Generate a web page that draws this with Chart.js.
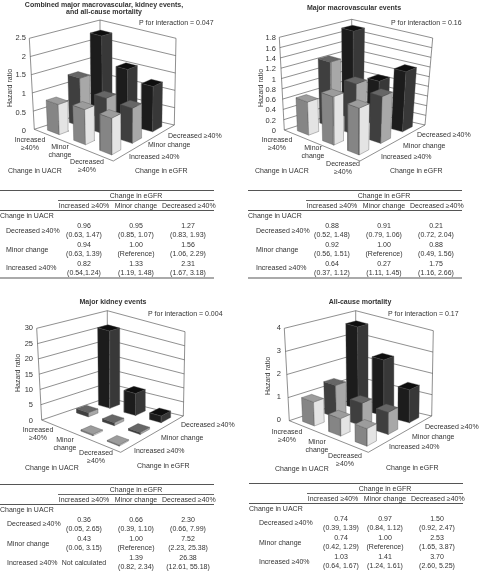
<!DOCTYPE html>
<html>
<head>
<meta charset="utf-8">
<title>Hazard ratio by change in eGFR and UACR</title>
<script src="https://cdn.jsdelivr.net/npm/chart.js@4/dist/chart.umd.min.js"></script>
<style>
    html, body { margin: 0; padding: 0; background: #fff; width: 479px; height: 571px; overflow: hidden; }
    canvas { position: absolute; }
    /* will-change keeps the table text in plain grey antialiasing, no colour fringes */
    table { position: absolute; border-collapse: collapse; table-layout: fixed; width: 214px; will-change: transform;
            font: 7px/9px "Liberation Sans", Arial, sans-serif; color: #333; }
    td { padding: 0; text-align: center; white-space: nowrap; vertical-align: middle; }
    td.rowlabel { text-align: left; }
    tr.eg td { border-top: 1px solid #555; }
    td.eg-title { border-bottom: 1px solid #666; }
    tr.head td { border-bottom: 1px solid #555; }
    tr.last td { border-bottom: 2px solid #aaa; }
</style>
</head>
<body>
<script>
// Labels
const egfrColumns = ['Increased ≥40%', 'Minor change', 'Decreased ≥40%'];
const uacrRows = ['Decreased ≥40%', 'Minor change', 'Increased ≥40%'];
const uacrAxisLabels = [['Increased', '≥40%'], ['Minor', 'change'], ['Decreased', '≥40%']];
const egfrAxisLabels = ['Decreased ≥40%', 'Minor change', 'Increased ≥40%'];

// Bar heights, rows = uacrRows, columns = egfrColumns
const combinedValues = [[0.96, 0.95, 1.27], [0.94, 1.00, 1.56], [0.82, 1.33, 2.31]];
const macroValues = [[0.88, 0.91, 1.21], [0.92, 1.00, 0.88], [0.64, 1.27, 1.75]];
const kidneyValues = [[0.36, 0.66, 2.30], [0.43, 1.00, 7.52], [null, 1.39, 26.38]];
const mortalityValues = [[0.74, 0.97, 1.50], [0.74, 1.00, 2.53], [1.03, 1.41, 3.70]];

// Table text, as printed
const combinedHr = [['0.96', '0.95', '1.27'], ['0.94', '1.00', '1.56'], ['0.82', '1.33', '2.31']];
const combinedCi = [['(0.63, 1.47)', '(0.85, 1.07)', '(0.83, 1.93)'], ['(0.63, 1.39)', '(Reference)', '(1.06, 2.29)'], ['(0.54,1.24)', '(1.19, 1.48)', '(1.67, 3.18)']];
const macroHr = [['0.88', '0.91', '0.21'], ['0.92', '1.00', '0.88'], ['0.64', '0.27', '1.75']];
const macroCi = [['(0.52, 1.48)', '(0.79, 1.06)', '(0.72, 2.04)'], ['(0.56, 1.51)', '(Reference)', '(0.49, 1.56)'], ['(0.37, 1.12)', '(1.11, 1.45)', '(1.16, 2.66)']];
const kidneyHr = [['0.36', '0.66', '2.30'], ['0.43', '1.00', '7.52'], ['Not calculated', '1.39', '26.38']];
const kidneyCi = [['(0.05, 2.65)', '(0.39, 1.10)', '(0.66, 7.99)'], ['(0.06, 3.15)', '(Reference)', '(2.23, 25.38)'], ['', '(0.82, 2.34)', '(12.61, 55.18)']];
const mortalityHr = [['0.74', '0.97', '1.50'], ['0.74', '1.00', '2.53'], ['1.03', '1.41', '3.70']];
const mortalityCi = [['(0.39, 1.39)', '(0.84, 1.12)', '(0.92, 2.47)'], ['(0.42, 1.29)', '(Reference)', '(1.65, 3.87)'], ['(0.64, 1.67)', '(1.24, 1.61)', '(2.60, 5.25)']];

// Tick labels
const combinedTicks = [0, 0.5, 1, 1.5, 2, 2.5];
const macroTicks = [0, 0.2, 0.4, 0.6, 0.8, 1, 1.2, 1.4, 1.6, 1.8];
const kidneyTicks = [0, 5, 10, 15, 20, 25, 30];
const mortalityTicks = [0, 1, 2, 3, 4];

// Bar colours per eGFR column: low-left face, low-right face, top
const barColours = [
    ['#858585', '#e4e4e4', '#9c9c9c'],
    ['#3f3f3f', '#a8a8a8', '#666666'],
    ['#1c1c1c', '#383838', '#0e0e0e']
];
const BAR_SIZE = 0.45;
const CANVAS_W = 239, CANVAS_H = 184;

// Layout of the four panels. Box corners are canvas pixels (L left, F front, R right, B back)
const panels = [
    {
        title: ['Combined major macrovascular, kidney events,', 'and all-cause mortality'], titlePos: [104, [5, 12.5]],
        p: 'P for interaction = 0.047', pPos: [139, 23],
        left: 0, top: 0, values: combinedValues, ticks: combinedTicks, hr: combinedHr, ci: combinedCi,
        zero: 131, full: 38.3, axisX: 29, yTitleX: 10, yTitleY: 88,
        floor: { L: [34.3, 129.3], F: [113.3, 161], R: [174.3, 125], B: [100, 108] },
        roof: { L: [29.3, 38.3], F: [113, 64], R: [176, 38.3], B: [100, 20] },
        uacrPos: [[30, 140], [60, 147], [87, 162]], egfrPos: [[168, 136], [148, 145], [129, 157]],
        uacrName: [8, 171], egfrName: [135, 171],
        table: { left: 0, top: 190, rowH: 19, gap: 10, labelX: 6, firstPad: 0 }
    },
    {
        title: ['Major macrovascular events'], titlePos: [114, [8]],
        p: 'P for interaction = 0.16', pPos: [151, 23],
        left: 240, top: 0, values: macroValues, ticks: macroTicks, hr: macroHr, ci: macroCi,
        zero: 131, full: 38.3, axisX: 39, yTitleX: 21, yTitleY: 88,
        floor: { L: [44.3, 130], F: [120, 161], R: [185, 125], B: [111.7, 108.3] },
        roof: { L: [39.3, 37.3], F: [120, 64], R: [192.7, 38], B: [111.7, 19.3] },
        uacrPos: [[37, 140], [73, 148], [103, 164]], egfrPos: [[177, 135], [163, 146], [141, 157]],
        uacrName: [15, 171], egfrName: [150, 171],
        table: { left: 248, top: 190, rowH: 19, gap: 10, labelX: 8, firstPad: 0 }
    },
    {
        title: ['Major kidney events'], titlePos: [113, [12]],
        p: 'P for interaction = 0.004', pPos: [148, 24],
        left: 0, top: 290, values: kidneyValues, ticks: kidneyTicks, hr: kidneyHr, ci: kidneyCi,
        zero: 130.7, full: 38.3, axisX: 36, yTitleX: 18, yTitleY: 83,
        floor: { L: [41.7, 130], F: [120.7, 162.3], R: [183.3, 126], B: [107.3, 107.7] },
        roof: { L: [36.7, 38.3], F: [120.7, 66], R: [185, 41.7], B: [107.3, 20.7] },
        uacrPos: [[38, 140], [65, 150], [96, 163]], egfrPos: [[181, 135], [161, 148], [134, 161]],
        uacrName: [25, 178], egfrName: [137, 176],
        table: { left: 0, top: 484, rowH: 19.5, gap: 9, labelX: 7, firstPad: 0 }
    },
    {
        title: ['All-cause mortality'], titlePos: [120, [12]],
        p: 'P for interaction = 0.17', pPos: [148, 24],
        left: 240, top: 290, values: mortalityValues, ticks: mortalityTicks, hr: mortalityHr, ci: mortalityCi,
        zero: 130, full: 38.3, axisX: 44, yTitleX: 28, yTitleY: 86,
        floor: { L: [49.3, 130.7], F: [128.3, 162.3], R: [191.7, 126], B: [115.7, 108.3] },
        roof: { L: [44.3, 38.3], F: [128.3, 66], R: [193.3, 40.7], B: [115.7, 20.7] },
        uacrPos: [[47, 142], [77, 152], [105, 166]], egfrPos: [[185, 137], [172, 147], [149, 157]],
        uacrName: [35, 179], egfrName: [146, 178],
        table: { left: 249, top: 483, rowH: 19.5, gap: 9, labelX: 10, firstPad: 16 }
    }
];

// Projection: a = UACR direction (0 Increased .. 1 Decreased), b = eGFR direction (0 Increased .. 1 Decreased)
function bilinear(c, a, b, k) {
    return (1 - a) * (1 - b) * c.L[k] + a * (1 - b) * c.F[k] + (1 - a) * b * c.B[k] + a * b * c.R[k];
}

function project(panel, a, b, w) {
    const px = bilinear(panel.floor, a, b, 0) * (1 - w) + bilinear(panel.roof, a, b, 0) * w;
    const py = bilinear(panel.floor, a, b, 1) * (1 - w) + bilinear(panel.roof, a, b, 1) * w;
    // x scale runs in canvas pixels, y scale runs in hazard ratio units
    const maxTick = panel.ticks[panel.ticks.length - 1];
    return { x: px, y: (panel.zero - py) * maxTick / (panel.zero - panel.full) };
}

function lineSet(points, colour) {
    return { data: points, showLine: true, borderColor: colour, borderWidth: 0.6, pointRadius: 0, fill: false, clip: false };
}

function faceSet(points, colour) {
    return {
        data: points.concat(points[0]), showLine: true, borderColor: '#4a4a4a', borderWidth: 0.35,
        backgroundColor: colour, pointRadius: 0, fill: 'shape', clip: false
    };
}

function buildDatasets(panel) {
    const sets = [];
    const maxTick = panel.ticks[panel.ticks.length - 1];
    const P = (a, b, w) => project(panel, a, b, w);

    // Walls and floor
    panel.ticks.forEach(t => {
        const w = t / maxTick;
        sets.push(lineSet([P(0, 0, w), P(0, 1, w), P(1, 1, w)], '#444'));
    });
    sets.push(lineSet([P(0, 0, 0), P(0, 0, 1)], '#444'));
    sets.push(lineSet([P(0, 1, 0), P(0, 1, 1)], '#444'));
    sets.push(lineSet([P(1, 1, 0), P(1, 1, 1)], '#444'));
    sets.push(lineSet([P(0, 0, 0), P(1, 0, 0), P(1, 1, 0)], '#444'));

    // Bars, back to front
    for (let r = 2; r >= 0; r--) {
        for (let c = 2; c >= 0; c--) {
            const v = panel.values[r][c];
            if (v === null) continue;
            const w = v / maxTick;
            const a0 = (2 - r + 0.5 - BAR_SIZE / 2) / 3, a1 = a0 + BAR_SIZE / 3;
            const b0 = (c + 0.5 - BAR_SIZE / 2) / 3, b1 = b0 + BAR_SIZE / 3;
            const col = barColours[c];
            sets.push(faceSet([P(a0, b0, 0), P(a1, b0, 0), P(a1, b0, w), P(a0, b0, w)], col[0]));
            sets.push(faceSet([P(a1, b0, 0), P(a1, b1, 0), P(a1, b1, w), P(a1, b0, w)], col[1]));
            sets.push(faceSet([P(a0, b0, w), P(a1, b0, w), P(a1, b1, w), P(a0, b1, w)], col[2]));
        }
    }
    // Chart.js paints the first dataset last
    return sets.reverse();
}

// Titles, P value and the floor labels
const panelText = {
    id: 'panelText',
    afterDraw(chart, args, opts) {
        const panel = opts.panel;
        const ctx = chart.ctx;
        const put = (text, x, y, align, bold) => {
            ctx.font = (bold ? 'bold ' : '') + '7px "Liberation Sans", Arial, sans-serif';
            ctx.textAlign = align;
            ctx.fillText(text, x, y);
        };
        ctx.save();
        ctx.fillStyle = '#333';
        ctx.textBaseline = 'middle';
        panel.title.forEach((line, i) => put(line, panel.titlePos[0], panel.titlePos[1][i], 'center', true));
        put(panel.p, panel.pPos[0], panel.pPos[1], 'left');
        uacrAxisLabels.forEach((lines, i) => {
            put(lines[0], panel.uacrPos[i][0], panel.uacrPos[i][1], 'center');
            put(lines[1], panel.uacrPos[i][0], panel.uacrPos[i][1] + 8.5, 'center');
        });
        egfrAxisLabels.forEach((text, i) => put(text, panel.egfrPos[i][0], panel.egfrPos[i][1], 'left'));
        put('Change in UACR', panel.uacrName[0], panel.uacrName[1], 'left');
        put('Change in eGFR', panel.egfrName[0], panel.egfrName[1], 'left');
        ctx.restore();
    }
};

function drawPanel(panel) {
    const canvas = document.createElement('canvas');
    canvas.width = CANVAS_W;
    canvas.height = CANVAS_H;
    canvas.style.left = panel.left + 'px';
    canvas.style.top = panel.top + 'px';
    document.body.appendChild(canvas);

    const maxTick = panel.ticks[panel.ticks.length - 1];
    const unitsPerPixel = maxTick / (panel.zero - panel.full);
    const areaBottom = panel.yTitleY * 2;

    new Chart(canvas, {
        type: 'scatter',
        data: { datasets: buildDatasets(panel) },
        plugins: [panelText],
        options: {
            responsive: false,
            animation: false,
            layout: { padding: { bottom: CANVAS_H - areaBottom } },
            plugins: {
                legend: { display: false },
                tooltip: { enabled: false },
                panelText: { panel: panel }
            },
            elements: { line: { tension: 0 } },
            scales: {
                x: { type: 'linear', display: false, min: panel.axisX, max: CANVAS_W },
                y: {
                    type: 'linear',
                    min: (panel.zero - areaBottom) * unitsPerPixel,
                    max: panel.zero * unitsPerPixel,
                    grid: { display: false, drawTicks: false },
                    border: { display: false },
                    afterBuildTicks: s => { s.ticks = panel.ticks.map(v => ({ value: v })); },
                    afterFit: s => { s.width = panel.axisX; s.paddingTop = 0; s.paddingBottom = 0; },
                    ticks: {
                        autoSkip: false, padding: 3, color: '#333',
                        font: { family: '"Liberation Sans", Arial, sans-serif', size: 7.5 },
                        callback: v => String(v)
                    },
                    title: {
                        display: true, text: 'Hazard ratio', color: '#333',
                        padding: { top: panel.yTitleX - 4.2, bottom: 0 },
                        font: { family: '"Liberation Sans", Arial, sans-serif', size: 7, lineHeight: 1.2 }
                    }
                }
            }
        }
    });
}

function drawTable(panel) {
    const t = panel.table;
    const table = document.createElement('table');
    table.style.left = t.left + 'px';
    table.style.top = t.top + 'px';
    let html = '<colgroup><col style="width:58px"><col style="width:52px"><col style="width:52px"><col style="width:52px"></colgroup>';
    html += '<tr class="eg" style="height:10px"><td></td><td class="eg-title" colspan="3">Change in eGFR</td></tr>';
    html += '<tr class="head" style="height:9px"><td></td>' + egfrColumns.map(c => `<td>${c}</td>`).join('') + '</tr>';
    html += `<tr style="height:${t.gap}px"><td class="rowlabel" colspan="4">Change in UACR</td></tr>`;
    uacrRows.forEach((row, r) => {
        const cells = panel.hr[r].map((hr, c) => {
            const pad = c === 0 && t.firstPad ? ` style="padding-left:${t.firstPad}px"` : '';
            const ci = panel.ci[r][c];
            return `<td${pad}>${hr}${ci ? '<br>' + ci : ''}</td>`;
        }).join('');
        html += `<tr${r === 2 ? ' class="last"' : ''} style="height:${t.rowH}px">` +
            `<td class="rowlabel" style="padding-left:${t.labelX}px">${row}</td>${cells}</tr>`;
    });
    table.innerHTML = html;
    document.body.appendChild(table);
}

panels.forEach(panel => {
    drawPanel(panel);
    drawTable(panel);
});
</script>
</body>
</html>
